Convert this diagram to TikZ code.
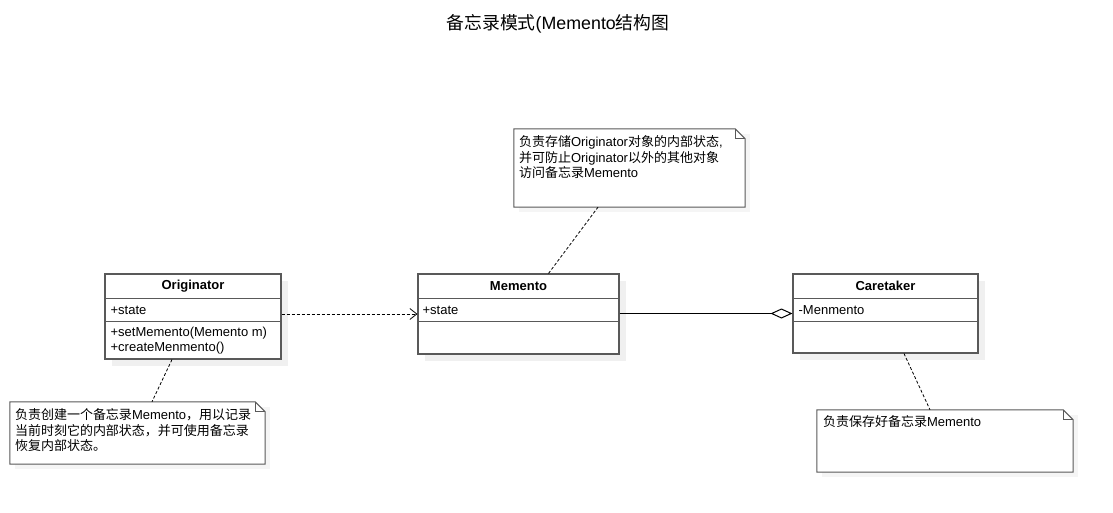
\documentclass[tikz,border=0pt]{standalone}
\usepackage{fontspec}
\setmainfont{Liberation Sans}
\newfontfamily\cjk{Noto Sans CJK SC}
\usetikzlibrary{arrows.meta,positioning,shadows}

\newcommand{\zh}[1]{{\cjk #1}}

\begin{document}
\begin{tikzpicture}[x=1pt,y=-1pt,>=stealth,
    clase/.style={draw=black!65, line width=1.1pt, fill=white, inner sep=0pt,
      drop shadow={shadow xshift=7pt, shadow yshift=-7pt, fill=black!6, opacity=1}},
    nota/.style={inner sep=0pt},
    texto/.style={inner sep=0pt, font=\fontsize{13}{15.5}\selectfont, align=left},
    titulo/.style={inner sep=0pt, font=\fontsize{13}{15.5}\selectfont\bfseries},
    borde/.style={draw=black!65, line width=1pt},
    enlace/.style={dashed, line width=0.8pt, dash pattern=on 3pt off 2pt}]
  \def\dobl{10pt}
  \def\cab{25pt}
  \def\attr{48pt}

  % Marco
  \useasboundingbox[fill=white] (0,0) rectangle (1113,513);

  \node[inner sep=0pt, font=\fontsize{17.8}{20}\selectfont] (tit) at (558,24) {\zh{备忘录模式}(Memento\zh{结构图}};

  % Clases
  \node[clase, minimum width=176pt, minimum height=85pt] (orig) at (193,316.5) {};
  \node[clase, minimum width=201pt, minimum height=80pt] (mem) at (518.5,314) {};
  \node[clase, minimum width=185pt, minimum height=79pt] (care) at (885.5,313.5) {};

  \foreach \c in {orig,mem,care} {
    \draw[borde, line width=1.1pt] ([yshift=-\cab]\c.north west) -- ([yshift=-\cab]\c.north east);
    \draw[borde, line width=1.1pt] ([yshift=-\attr]\c.north west) -- ([yshift=-\attr]\c.north east);
  }

  \node[titulo] at ([yshift=-12.5pt]orig.north) {Originator};
  \node[titulo] at ([yshift=-12.5pt]mem.north) {Memento};
  \node[titulo] at ([yshift=-12.5pt]care.north) {Caretaker};

  \node[texto, anchor=west] at ([xshift=6pt,yshift=-36.5pt]orig.north west) {+state};
  \node[texto, anchor=north west] at ([xshift=6pt,yshift=-53pt]orig.north west) {+setMemento(Memento m)\\+createMenmento()};
  \node[texto, anchor=west] at ([xshift=5pt,yshift=-36.5pt]mem.north west) {+state};
  \node[texto, anchor=west] at ([xshift=6pt,yshift=-36.5pt]care.north west) {-Menmento};

  % Notas
  \node[nota, minimum width=255pt, minimum height=62pt] (nota1) at (137.5,433) {};
  \node[nota, minimum width=231pt, minimum height=78pt] (nota2) at (629.5,168) {};
  \node[nota, minimum width=256pt, minimum height=62pt] (nota3) at (945,441) {};

  \foreach \n in {nota1,nota2,nota3} {
    \fill[black!4] ([shift={(5pt,-5pt)}]\n.north west) rectangle ([shift={(5pt,-5pt)}]\n.south east);
    \draw[borde, fill=white] (\n.north west) -- ([xshift=-\dobl]\n.north east) -- ([yshift=-\dobl]\n.north east)
      -- (\n.south east) -- (\n.south west) -- cycle;
    \draw[borde] ([xshift=-\dobl]\n.north east) -- ([xshift=-\dobl,yshift=-\dobl]\n.north east) -- ([yshift=-\dobl]\n.north east);
  }

  \node[texto, anchor=north west] at ([xshift=5pt,yshift=-7pt]nota1.north west)
    {\zh{负责创建一个备忘录}Memento\zh{，用以记录}\\\zh{当前时刻它的内部状态，并可使用备忘录}\\\zh{恢复内部状态。}};
  \node[texto, anchor=north west] at ([xshift=5pt,yshift=-7pt]nota2.north west)
    {\zh{负责存储}Originator\zh{对象的内部状态}{,}\\\zh{并可防止}Originator\zh{以外的其他对象}\\\zh{访问备忘录}Memento};
  \node[texto, anchor=north west] at ([xshift=6pt,yshift=-6pt]nota3.north west)
    {\zh{负责保存好备忘录}Memento};

  % Relaciones
  \draw[enlace, -{Straight Barb[length=7pt,width=11pt]}] (orig.east |- mem.west) -- (mem.west);
  \draw[line width=1pt, -{Diamond[open, length=22pt, width=10pt]}] (mem.east |- care.west) -- (care.west);

  % Anclas de notas
  \draw[enlace] ([xshift=-21pt]orig.south) -- ([xshift=14.5pt]nota1.north);
  \draw[enlace] ([xshift=30pt]mem.north) -- ([xshift=-31.5pt]nota2.south);
  \draw[enlace] ([xshift=18.5pt]care.south) -- ([xshift=-15pt]nota3.north);
\end{tikzpicture}
\end{document}
